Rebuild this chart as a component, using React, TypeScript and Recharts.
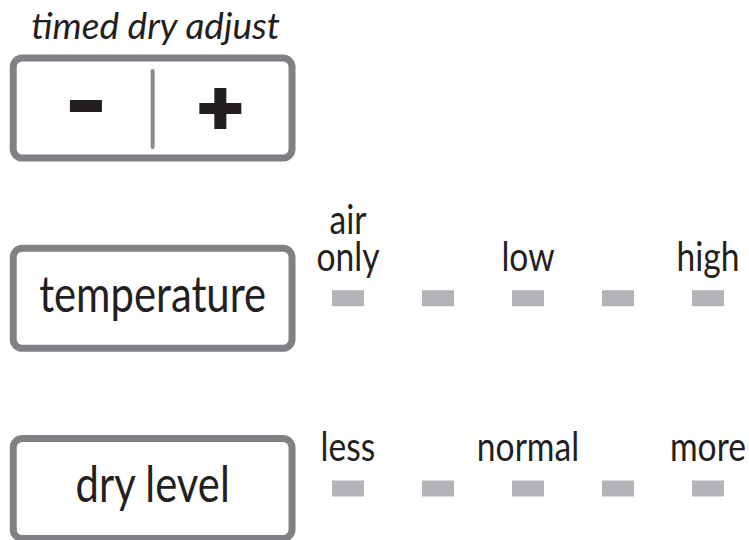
import { ScatterChart, Scatter, XAxis, YAxis, ReferenceArea, ReferenceLine } from "recharts"

// control panel rows (0 = top button, 1 = temperature, 2 = dry level)
const rows = [0, 1, 2]
const controlNames = ["timed dry adjust", "temperature", "dry level"]

// indicator lights, step 1..5 for each selectable row
const steps = [1, 2, 3, 4, 5]
const temperatureLabels = ["air\nonly", "", "low", "", "high"]
const dryLevelLabels = ["less", "", "normal", "", "more"]

const INK = "#231f20"
const BOX = "#808184"
const LED = "#b3b4b8"
const FONT = "Lato, sans-serif"
const SQUEEZE = 0.82

const temperatureLeds = steps.map((s, i) => ({ step: s, row: rows[1], label: temperatureLabels[i] }))
const dryLevelLeds = steps.map((s, i) => ({ step: s, row: rows[2], label: dryLevelLabels[i] }))

// box extents in chart units
const boxLeft = -2.72
const boxRight = 0.378
const boxHalf = 0.263

// condensed look: squeeze the glyphs horizontally around the anchor
const NarrowText = ({ x, y, size, lines, gap = 0 }: any) => (
  <g transform={`translate(${x},${y}) scale(${SQUEEZE},1)`}>
    <text x={0} y={0} textAnchor="middle" fontFamily={FONT} fontSize={size} fill={INK}>
      {lines.map((t: string, i: number) => (
        <tspan key={t} x={0} dy={i === 0 ? -(lines.length - 1) * gap : gap}>
          {t}
        </tspan>
      ))}
    </text>
  </g>
)

const LedShape = (props: any) => {
  const { cx, cy, payload } = props
  const lines: string[] = payload.label ? payload.label.split("\n") : []
  return (
    <g>
      <rect x={cx - 16} y={cy - 8} width={32} height={16} fill={LED} />
      {lines.length > 0 && <NarrowText x={cx} y={cy - 27} size={41} lines={lines} gap={37} />}
    </g>
  )
}

const ButtonBox = (props: any) => {
  const { x, y, width, height, name } = props
  return (
    <g>
      <rect x={x} y={y} width={width} height={height} rx={9} ry={9} fill="#fff" stroke={BOX} strokeWidth={7} />
      <NarrowText x={x + width / 2} y={y + height / 2 + 13.5} size={51} lines={[name]} />
    </g>
  )
}

const AdjustBox = (props: any) => {
  const { x, y, width, height, name } = props
  const mid = x + width / 2
  const lc = (x + mid) / 2 + 3
  const rc = (mid + x + width) / 2 - 2
  const cy = y + height / 2
  return (
    <g>
      <text
        x={mid + 3}
        y={y - 19}
        textAnchor="middle"
        fontFamily={FONT}
        fontStyle="italic"
        fontSize={37}
        fill={INK}
      >
        {name}
      </text>
      <rect x={x} y={y} width={width} height={height} rx={9} ry={9} fill="#fff" stroke={BOX} strokeWidth={7} />
      <rect x={lc - 16} y={cy - 8} width={32} height={12} fill={INK} />
      <rect x={rc - 21} y={cy - 5} width={42} height={11} fill={INK} />
      <rect x={rc - 6} y={cy - 20} width={12} height={41} fill={INK} />
    </g>
  )
}

export default function App() {
  return (
    <div style={{ position: "absolute", left: 0, top: 0, background: "#fff" }}>
      <ScatterChart width={749} height={540} margin={{ top: 0, right: 0, bottom: 0, left: 0 }}>
        <XAxis type="number" dataKey="step" domain={[-2.867, 5.456]} hide allowDataOverflow />
        <YAxis type="number" dataKey="row" domain={[-0.5677, 2.2707]} reversed hide allowDataOverflow />
        <ReferenceArea
          x1={boxLeft}
          x2={boxRight}
          y1={rows[0] - boxHalf}
          y2={rows[0] + boxHalf}
          ifOverflow="visible"
          shape={(p: any) => <AdjustBox {...p} name={controlNames[0]} />}
        />
        <ReferenceLine
          segment={[
            { x: (boxLeft + boxRight) / 2, y: rows[0] - 0.195 },
            { x: (boxLeft + boxRight) / 2, y: rows[0] + 0.205 },
          ]}
          stroke="#8a8a8d"
          strokeWidth={4}
          strokeLinecap="round"
          ifOverflow="visible"
        />
        <ReferenceArea
          x1={boxLeft}
          x2={boxRight}
          y1={rows[1] - boxHalf}
          y2={rows[1] + boxHalf}
          ifOverflow="visible"
          shape={(p: any) => <ButtonBox {...p} name={controlNames[1]} />}
        />
        <ReferenceArea
          x1={boxLeft}
          x2={boxRight}
          y1={rows[2] - boxHalf}
          y2={rows[2] + boxHalf}
          ifOverflow="visible"
          shape={(p: any) => <ButtonBox {...p} name={controlNames[2]} />}
        />
        <Scatter data={temperatureLeds} shape={LedShape} isAnimationActive={false} />
        <Scatter data={dryLevelLeds} shape={LedShape} isAnimationActive={false} />
      </ScatterChart>
    </div>
  )
}
